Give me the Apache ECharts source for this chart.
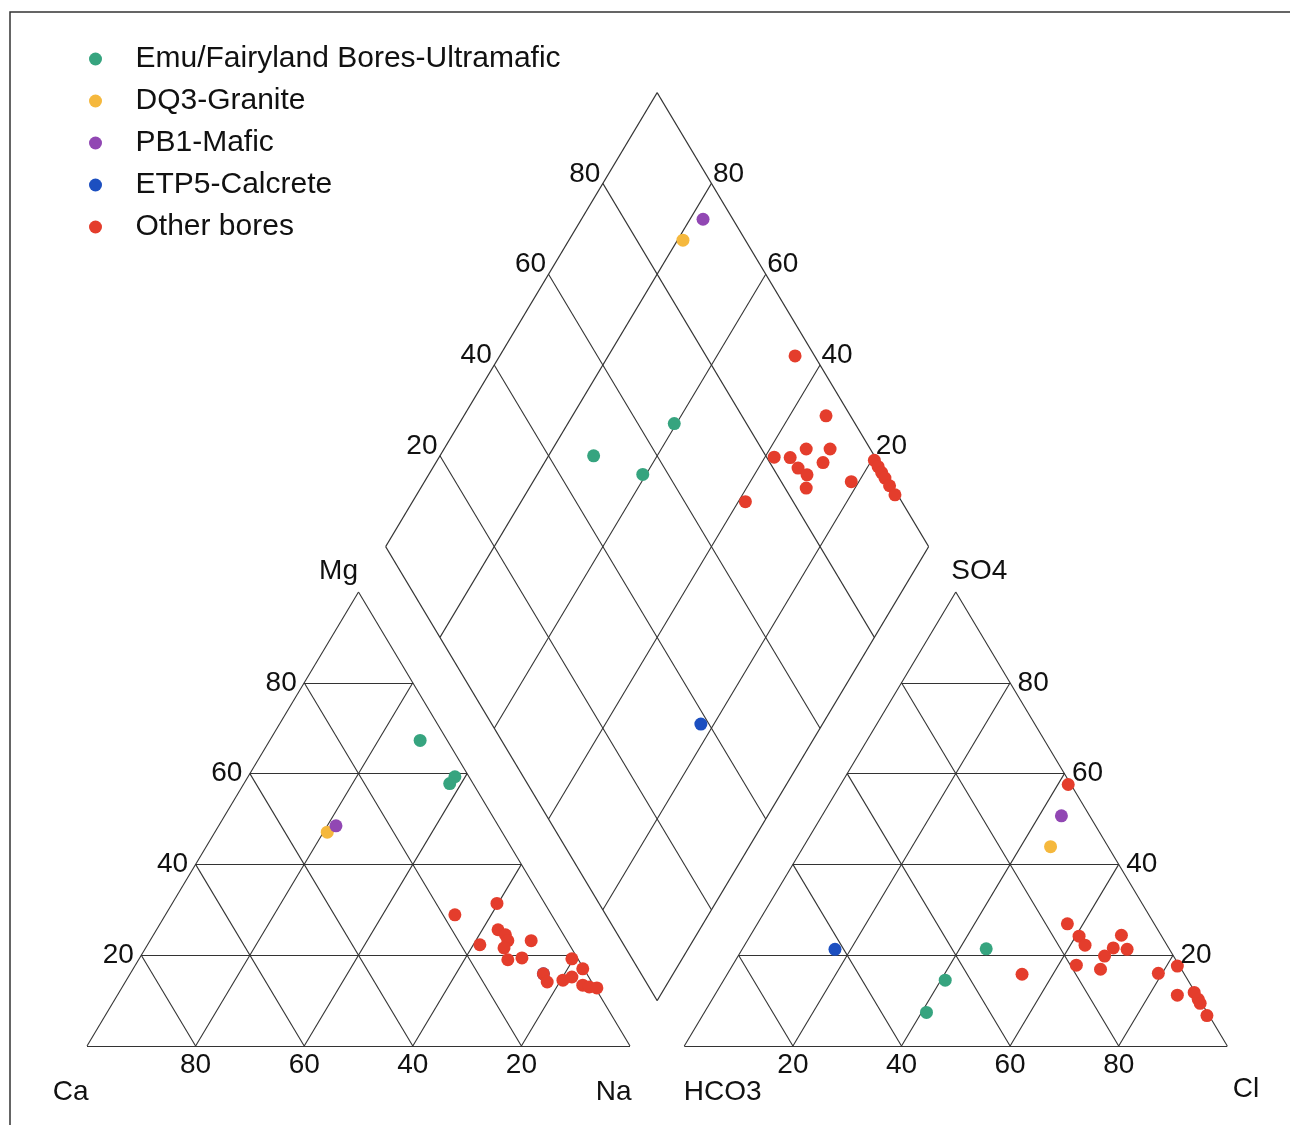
<!DOCTYPE html>
<html>
<head>
<meta charset="utf-8">
<script src="https://cdn.jsdelivr.net/npm/echarts@6/dist/echarts.min.js"></script>
<style>
    html, body { margin: 0; padding: 0; background: #fff; }
    #chart { width: 1290px; height: 1125px; }
</style>
</head>
<body>
<div id="chart"></div>
<script>
// tick values used on every edge (%)
const ticks = [20, 40, 60, 80];

// cation triangle: [Na+K %, Mg %]
const emuCation = [[27.7, 67.3], [38.1, 59.3], [37.9, 57.8]];
const dq3Cation = [[20.7, 47.1]];
const pb1Cation = [[21.6, 48.5]];
const etp5Cation = [[76.1, 15.9]];
const otherCation = [[53.3, 28.9], [59.8, 31.4], [61.2, 22.3], [62.9, 25.6], [64.8, 24.5], [65.9, 23.2],
    [66.0, 21.6], [68.0, 19.0], [70.4, 19.4], [70.2, 23.2], [76.1, 15.9], [77.7, 14.1], [80.4, 14.5],
    [81.7, 15.2], [79.7, 19.2], [82.8, 17.0], [84.6, 13.4], [86.0, 13.0], [87.5, 12.8]];

// anion triangle: [Cl %, SO4 %]
const emuAnion = [[44.9, 21.4], [40.8, 14.5], [40.9, 7.4]];
const dq3Anion = [[45.5, 43.9]];
const pb1Anion = [[44.1, 50.7]];
const etp5Anion = [[17.1, 21.3]];
const otherAnion = [[41.9, 57.6], [57.1, 26.9], [60.6, 24.2], [62.7, 22.2], [68.3, 24.4], [68.2, 21.6],
    [70.9, 21.3], [67.5, 19.8], [68.2, 16.9], [63.3, 17.8], [54.3, 15.8], [79.3, 16.0], [82.0, 17.6],
    [85.2, 11.2], [88.0, 11.8], [89.5, 10.3], [90.3, 9.4], [92.9, 6.7]];

// diamond: [Na+K %, Cl+SO4 %]
const emuDiamond = [[28.3, 48.3], [39.4, 55.3], [39.6, 66.7]];
const dq3Diamond = [[21.0, 88.5]];
const pb1Diamond = [[22.4, 94.5]];
const etp5Diamond = [[77.6, 38.5]];
const otherDiamond = [[54.4, 96.4], [66.7, 95.5], [66.7, 88.2], [71.1, 92.6], [61.7, 81.4], [64.7, 84.3],
    [67.3, 84.6], [69.7, 85.5], [71.0, 83.9], [71.3, 89.8], [78.6, 92.9], [61.3, 71.2], [80.5, 99.5],
    [81.9, 99.5], [83.2, 99.5], [84.4, 99.5], [86.1, 99.5], [88.1, 99.5]];

const groupNames = ['Emu/Fairyland Bores-Ultramafic', 'DQ3-Granite', 'PB1-Mafic', 'ETP5-Calcrete', 'Other bores'];
const groupColors = ['#36a47f', '#f5b83d', '#9147b3', '#1c4fc0', '#e43d2c'];

// gap between the two triangles, in triangle-side units
const GAP = 0.1;

// ternary -> plane (x in side units, y in triangle heights)
function cationXY(na, mg) {
    na /= 100; mg /= 100;
    return [na + mg / 2, mg];
}
function anionXY(cl, so4) {
    cl /= 100; so4 /= 100;
    return [1 + GAP + cl + so4 / 2, so4];
}
function diamondXY(na, an) {
    na /= 100; an /= 100;
    return [0.5 + GAP / 2 + 0.5 * (na + an), 1 + GAP - na + an];
}

// grid segments
let segs = [];
const seg = (a, b) => segs.push({ coords: [a, b] });
[0, 100].forEach(v => {
    seg(diamondXY(v, 0), diamondXY(v, 100));
    seg(diamondXY(0, v), diamondXY(100, v));
});
seg(cationXY(0, 0), cationXY(100, 0));
seg(cationXY(100, 0), cationXY(0, 100));
seg(cationXY(0, 100), cationXY(0, 0));
seg(anionXY(0, 0), anionXY(100, 0));
seg(anionXY(100, 0), anionXY(0, 100));
seg(anionXY(0, 100), anionXY(0, 0));
ticks.forEach(k => {
    seg(cationXY(0, k), cationXY(100 - k, k));
    seg(cationXY(k, 0), cationXY(k, 100 - k));
    seg(cationXY(100 - k, 0), cationXY(0, 100 - k));
    seg(anionXY(0, k), anionXY(100 - k, k));
    seg(anionXY(k, 0), anionXY(k, 100 - k));
    seg(anionXY(100 - k, 0), anionXY(0, 100 - k));
    seg(diamondXY(k, 0), diamondXY(k, 100));
    seg(diamondXY(0, k), diamondXY(100, k));
});

// tick and corner labels
const fontFamily = '"Liberation Sans", Arial, sans-serif';
const textColor = '#111111';
let labels = [];
const lab = (xy, text, label) => labels.push({
    value: xy,
    label: Object.assign({ show: true, formatter: text, color: textColor, opacity: 1, fontSize: 28, fontFamily: fontFamily }, label)
});
ticks.forEach(k => {
    lab(cationXY(0, k), String(k), { position: 'left', distance: 7 });
    lab(cationXY(k, 0), String(100 - k), { position: 'bottom', distance: 5 });
    lab(anionXY(k, 0), String(k), { position: 'bottom', distance: 5 });
    lab(anionXY(100 - k, k), String(k), { position: 'right', distance: 7 });
    lab(diamondXY(0, k), String(k), { position: [-2, 5], align: 'right', verticalAlign: 'bottom' });
    lab(diamondXY(k, 100), String(100 - k), { position: [2, 5], align: 'left', verticalAlign: 'bottom' });
});
lab(cationXY(0, 100), 'Mg', { position: [0, -6], align: 'right', verticalAlign: 'bottom' });
lab(anionXY(0, 100), 'SO4', { position: [-4, -6], align: 'left', verticalAlign: 'bottom' });
lab(cationXY(0, 0), 'Ca', { position: [2, 33], align: 'right', verticalAlign: 'top' });
lab(cationXY(100, 0), 'Na', { position: [2, 33], align: 'right', verticalAlign: 'top' });
lab(anionXY(0, 0), 'HCO3', { position: [0, 33], align: 'left', verticalAlign: 'top' });
lab(anionXY(100, 0), 'Cl', { position: [6, 30], align: 'left', verticalAlign: 'top' });

const groups = [
    [emuCation, emuAnion, emuDiamond],
    [dq3Cation, dq3Anion, dq3Diamond],
    [pb1Cation, pb1Anion, pb1Diamond],
    [etp5Cation, etp5Anion, etp5Diamond],
    [otherCation, otherAnion, otherDiamond]
];

const pointSeries = groups.map((g, i) => ({
    name: groupNames[i],
    type: 'scatter',
    symbolSize: 13,
    itemStyle: { color: groupColors[i], opacity: 1 },
    data: [
        ...g[0].map(p => cationXY(p[0], p[1])),
        ...g[1].map(p => anionXY(p[0], p[1])),
        ...g[2].map(p => diamondXY(p[0], p[1]))
    ]
}));

let myChart = echarts.init(document.getElementById('chart'));
let option = {
    animation: false,
    backgroundColor: '#fff',
    textStyle: { fontFamily: fontFamily, color: textColor },
    graphic: [{
        type: 'polyline',
        shape: { points: [[10, 1125], [10, 12], [1290, 12]] },
        style: { stroke: '#333', lineWidth: 1.5, fill: null }
    }],
    legend: {
        data: groupNames,
        orient: 'vertical',
        left: 84,
        top: 39,
        icon: 'circle',
        itemWidth: 70,
        itemHeight: 13,
        itemGap: 12,
        textStyle: { fontSize: 30, lineHeight: 30, color: textColor, fontFamily: fontFamily }
    },
    grid: { left: 0, right: 0, top: 0, bottom: 0 },
    xAxis: { type: 'value', min: -87 / 543, max: 1203 / 543, show: false },
    yAxis: { type: 'value', min: -79 / 454, max: 1046 / 454, show: false },
    series: [
        {
            type: 'lines',
            coordinateSystem: 'cartesian2d',
            silent: true,
            lineStyle: { color: '#333333', width: 1.1, opacity: 1, curveness: 0 },
            data: segs
        },
        {
            name: 'labels',
            type: 'scatter',
            silent: true,
            symbolSize: 1,
            itemStyle: { color: 'rgba(255,255,255,0)' },
            label: { show: true, fontSize: 28, color: textColor, fontFamily: fontFamily },
            data: labels
        },
        ...pointSeries
    ]
};
myChart.setOption(option, true);
window.addEventListener('resize', () => {
    myChart.resize();
});
</script>
</body>
</html>
